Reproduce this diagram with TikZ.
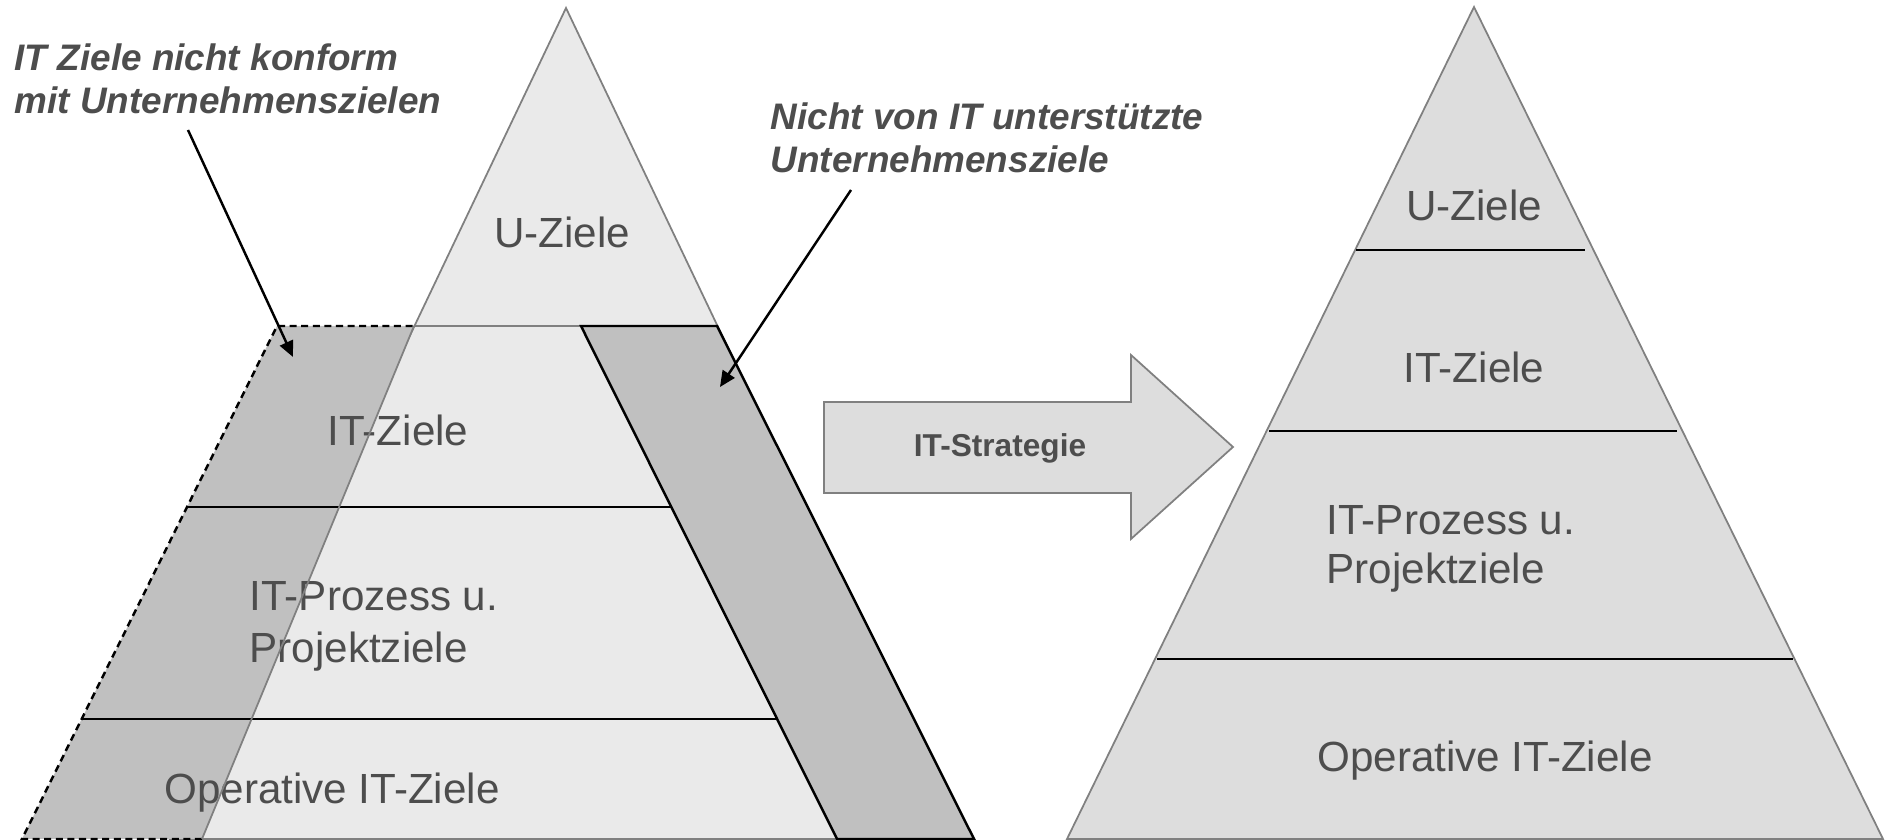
\documentclass[tikz,border=0pt]{standalone}
\usepackage{fontspec}
\setmainfont{Liberation Sans}
\usetikzlibrary{arrows.meta}

\definecolor{txtgray}{HTML}{4D4D4D}
\definecolor{lightfill}{HTML}{EAEAEA}
\definecolor{bandfill}{HTML}{C0C0C0}
\definecolor{rightfill}{HTML}{DDDDDD}
\definecolor{edgegray}{HTML}{808080}

\tikzset{
  layer/.style={text=txtgray, font=\fontsize{12}{13.8}\selectfont, inner sep=0pt},
  note/.style={text=txtgray, font=\fontsize{10.5}{12.2}\selectfont\bfseries\itshape,
    align=left, anchor=north west, inner sep=0pt},
  pointer/.style={-{Triangle[length=4.5pt,width=4pt]}, line width=0.7pt},
  level/.style={line width=0.7pt},
  outline/.style={draw=edgegray, line width=0.5pt}
}

\begin{document}
\begin{tikzpicture}[x=0.1mm,y=-0.1mm]
	\useasboundingbox (0,0) rectangle (1888,840);
	% left pyramid
	\filldraw[fill=lightfill, outline] (566,8) -- (962,839) -- (170,839) -- cycle;
	\draw[edgegray, line width=0.5pt] (414,326) -- (581,326);
	% band: IT goals outside
	\fill[bandfill] (277,326) -- (414,326) -- (202,839) -- (22,839) -- cycle;
	\draw[dash pattern=on 2pt off 1.3pt, line width=0.7pt] (202,839) -- (22,839) -- (277,326) -- (414,326);
	% band: goals without IT
	\filldraw[fill=bandfill, level] (581,326) -- (717,326) -- (974,839) -- (837,839) -- cycle;
	\draw[level] (187,507) -- (671,507);
	\draw[level] (82,719) -- (777,719);
	\node[layer] (lU) at (562,232) {U-Ziele};
	\node[layer] (lIT) at (398,430) {IT-Ziele};
	\node[layer, align=left, anchor=west] (lProz) at (249,626) {IT-Prozess u.\\[1pt]Projektziele};
	\node[layer] (lOp) at (332,793) {Operative IT-Ziele};
	\draw[edgegray, line width=0.5pt] (414,326) -- (202,839);
	% notes
	\node[note] (noteL) at (14,43) {IT Ziele nicht konform\\mit Unternehmenszielen};
	\node[note] (noteR) at (770,102) {Nicht von IT unterstützte\\Unternehmensziele};
	\coordinate (tailL) at (188,130);
	\coordinate (tipL) at (293,357);
	\coordinate (tailR) at (851,190);
	\coordinate (tipR) at (720,387);
	\draw[pointer] (tailL) -- (tipL);
	\draw[pointer] (tailR) -- (tipR);
	% strategy arrow
	\filldraw[fill=rightfill, outline] (824,402) -- (1131,402) -- (1131,355) -- (1233,447)
		-- (1131,539) -- (1131,493) -- (824,493) -- cycle;
	\node[text=txtgray, font=\fontsize{9}{11}\selectfont\bfseries] (strat) at (1000,448) {IT-Strategie};
	% right pyramid
	\filldraw[fill=rightfill, outline] (1474,7) -- (1883,839) -- (1067,839) -- cycle;
	\draw[level] (1356,250) -- (1585,250);
	\draw[level] (1269,431) -- (1677,431);
	\draw[level] (1157,659) -- (1793,659);
	\node[layer] (rU) at (1474,205) {U-Ziele};
	\node[layer] (rIT) at (1474,367) {IT-Ziele};
	\node[layer, align=left, anchor=west] (rProz) at (1326,549) {IT-Prozess u.\\Projektziele};
	\node[layer] (rOp) at (1485,761) {Operative IT-Ziele};
\end{tikzpicture}
\end{document}
